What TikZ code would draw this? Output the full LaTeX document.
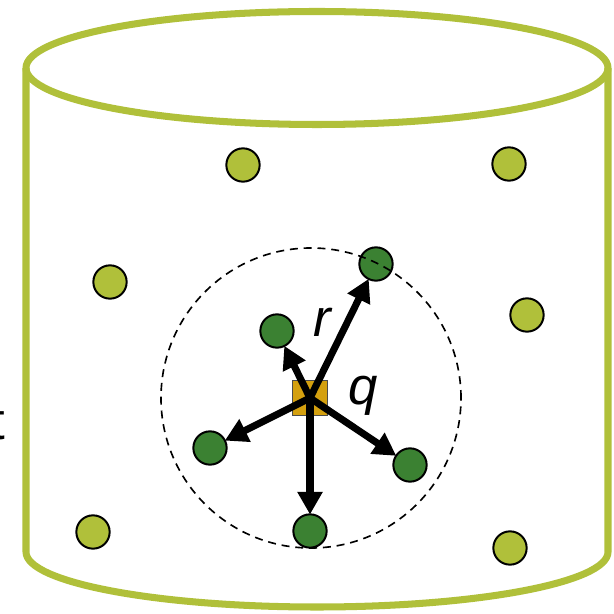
\documentclass[tikz,border=0pt]{standalone}
\usepackage{fontspec}
\setmainfont{Liberation Sans}
\usetikzlibrary{arrows.meta}
\definecolor{lgreen}{HTML}{B0C03A}
\definecolor{dgreen}{HTML}{3B8132}
\definecolor{gold}{HTML}{D4A00F}
\tikzset{
  cyl/.style={draw=lgreen, line width=6pt, line join=round},
  lball/.style={circle, draw=black, fill=lgreen, line width=1.7pt, minimum size=1.0cm, inner sep=0pt},
  dball/.style={circle, draw=black, fill=dgreen, line width=1.7pt, minimum size=1.0cm, inner sep=0pt},
  charge/.style={rectangle, draw=black!70, fill=gold, line width=0.8pt, minimum size=1.03cm, inner sep=0pt},
  cutoff/.style={draw=black, dashed, line width=1.4pt, dash pattern=on 6.8pt off 5pt},
  arr/.style={-{Triangle[length=0.68cm, width=0.72cm]}, line width=6pt, shorten >=-1pt},
  lbl/.style={font=\fontsize{45}{54}\selectfont\itshape, inner sep=0pt, anchor=base},
}
\begin{document}
\begin{tikzpicture}[x=0.03cm, y=0.03cm]
\useasboundingbox (0,0) rectangle (614,614);
\clip (0,0) rectangle (614,614);
% cylinder
\draw[cyl] (317,546) ellipse [x radius=291, y radius=56.5];
\draw[cyl] (26,546) -- (26,62) arc[start angle=180, end angle=360, x radius=291, y radius=55] -- (608,546);
% light particles
\node[lball] (l1) at (243,449) {};
\node[lball] (l2) at (509,450) {};
\node[lball] (l3) at (110,332) {};
\node[lball] (l4) at (527,299) {};
\node[lball] (l5) at (93,82) {};
\node[lball] (l6) at (510,66) {};
% dark particles
\node[dball] (d1) at (376,350) {};
\node[dball] (d2) at (277,283) {};
\node[dball] (d3) at (210,166) {};
\node[dball] (d4) at (410,149) {};
\node[dball] (d5) at (310,83) {};
% central charge
\node[charge] (sq) at (310,216) {};
% cutoff sphere
\node[circle, cutoff, minimum size=9cm, inner sep=0pt] (cut) at (311,216) {};
% arrows
\draw[arr] (sq.center) -- (d1);
\draw[arr] (sq.center) -- (d2);
\draw[arr] (sq.center) -- (d3);
\draw[arr] (sq.center) -- (d4);
\draw[arr] (sq.center) -- (d5);
% labels
\node[lbl] (r) at (322,277) {r};
\node[lbl] (q) at (363,209) {q};
\node[font=\fontsize{45}{54}\selectfont, inner sep=0pt, anchor=base west] (t) at (-10,174) {t};
\end{tikzpicture}
\end{document}
